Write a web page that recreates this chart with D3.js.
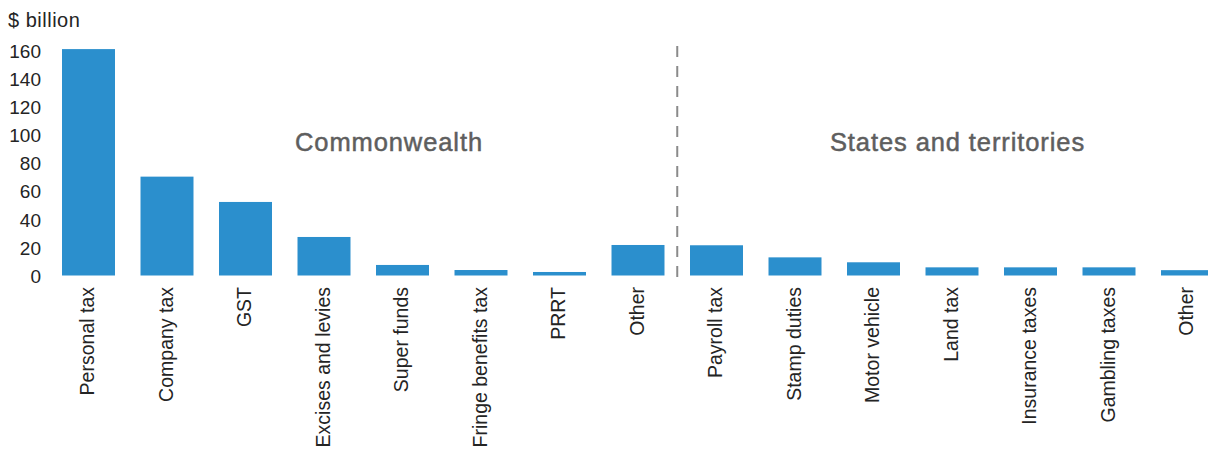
<!DOCTYPE html>
<html>
<head>
<meta charset="utf-8">
<script src="https://cdn.jsdelivr.net/npm/d3@7"></script>
<style>
  html, body { margin: 0; padding: 0; background: #fff; }
  svg { display: block; font-family: "Liberation Sans", Arial, Helvetica, sans-serif; }
</style>
</head>
<body>
<svg id="chart" width="1208" height="455"></svg>
<script>
// Tax revenue by source, $ billion
const categories = [
  "Personal tax", "Company tax", "GST", "Excises and levies", "Super funds",
  "Fringe benefits tax", "PRRT", "Other",
  "Payroll tax", "Stamp duties", "Motor vehicle", "Land tax",
  "Insurance taxes", "Gambling taxes", "Other"
];
const values = [161, 70.3, 52.3, 27.4, 7.5, 3.9, 2.5, 21.7, 21.5, 12.9, 9.4, 5.8, 5.8, 5.8, 3.8];
const groups = ["Commonwealth", "States and territories"];
const groupSizes = [8, 7];
const yTicks = [0, 20, 40, 60, 80, 100, 120, 140, 160];
const yUnit = "$ billion";

const svg = d3.select("#chart");

const x = d3.scaleBand()
  .domain(d3.range(categories.length))
  .range([49.25, 1226.75])
  .paddingInner(0.325)
  .paddingOuter(0.1625);

const y = d3.scaleLinear().domain([0, 160]).range([275.5, 50.5]);

const textColor = "#242424";

// y axis: labels only
const yAxis = svg.append("g")
  .attr("transform", "translate(41,0)")
  .call(d3.axisLeft(y).tickValues(yTicks).tickSize(0).tickPadding(0));
yAxis.select(".domain").remove();
yAxis.selectAll("text")
  .attr("fill", textColor)
  .style("font-size", "19px")
  .style("font-family", "'Liberation Sans', Arial, sans-serif")
  .attr("dy", "0.36em");

svg.append("text")
  .attr("x", 8).attr("y", 27)
  .attr("fill", textColor)
  .style("font-size", "20px")
  .style("letter-spacing", "0.5px")
  .text(yUnit);

// bars
svg.append("g").selectAll("rect")
  .data(values)
  .join("rect")
  .attr("x", (d, i) => x(i))
  .attr("width", x.bandwidth())
  .attr("y", d => y(d))
  .attr("height", d => y(0) - y(d))
  .attr("fill", "#2b8fcd");

// category labels, rotated
svg.append("g").selectAll("text")
  .data(categories)
  .join("text")
  .attr("transform", (d, i) => `translate(${x(i) + x.bandwidth() / 2},287) rotate(-90)`)
  .attr("text-anchor", "end")
  .attr("dy", "0.3em")
  .attr("fill", textColor)
  .style("font-size", "19.5px")
  .text(d => d);

// divider between the two levels of government
const split = groupSizes[0];
const divX = (x(split - 1) + x.bandwidth() + x(split)) / 2;
svg.append("line")
  .attr("x1", divX).attr("x2", divX)
  .attr("y1", 46).attr("y2", 277)
  .attr("stroke", "#8a8a8a")
  .attr("stroke-width", 2)
  .attr("stroke-dasharray", "11,9");

// group headings
const groupX = [x(4) + 13, x(11) + 32];
svg.append("g").selectAll("text")
  .data(groups)
  .join("text")
  .attr("x", (d, i) => groupX[i])
  .attr("y", 151)
  .attr("text-anchor", "middle")
  .attr("fill", "#5e5e5e")
  .attr("stroke", "#5e5e5e")
  .attr("stroke-width", 0.5)
  .style("font-size", "25.5px")
  .style("letter-spacing", "0.9px")
  .text(d => d);
</script>
</body>
</html>
